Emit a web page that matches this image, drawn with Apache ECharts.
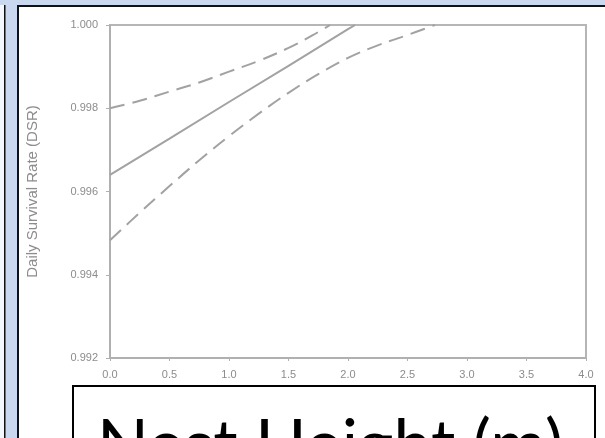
<!DOCTYPE html>
<html>
<head>
<meta charset="utf-8">
<script src="https://cdn.jsdelivr.net/npm/echarts@6/dist/echarts.min.js"></script>
<style>
  html, body { margin: 0; padding: 0; }
  #chart { width: 605px; height: 438px; }
</style>
</head>
<body>
<div id="chart"></div>
<script>
// Nest height (m) against daily survival rate, with 95% confidence bounds
const heightEstimate = [0, 0.5, 1.0, 1.5, 2.0, 2.06];
const dsrEstimate    = [0.99640, 0.99727, 0.99815, 0.99902, 0.99990, 1.000];

const heightUpper = [0, 0.25, 0.5, 0.75, 1.0, 1.25, 1.5, 1.7, 1.85];
const dsrUpper    = [0.99800, 0.99818, 0.99840, 0.99862, 0.99888, 0.99914, 0.99945, 0.99975, 1.000];

const heightLower = [0, 0.25, 0.5, 0.75, 1.0, 1.25, 1.5, 1.75, 2.0, 2.25, 2.5, 2.73];
const dsrLower    = [0.99483, 0.99549, 0.99613, 0.99675, 0.99733, 0.99787, 0.99837, 0.99882, 0.99921, 0.99951, 0.99976, 1.000];

const xTicks = { min: 0, max: 4, step: 0.5 };
const yTicks = { min: 0.992, max: 1.000, step: 0.002 };

const yTitle = 'Daily Survival Rate (DSR)';
const xTitle = 'Nest Height (m)';

function pairs(xs, ys) { return xs.map((x, i) => [x, ys[i]]); }

const lineGrey = '#a2a2a2';
const textGrey = '#8c8c8c';

// fit the large caption to its box width
const meas = document.createElement('canvas').getContext('2d');
meas.font = '100px Lato';
const titleSize = Math.round(100 * 466 / meas.measureText(xTitle).width);

const chart = echarts.init(document.getElementById('chart'), null, { renderer: 'canvas' });

chart.setOption({
  animation: false,
  backgroundColor: '#c9d7ef',
  graphic: [
    { type: 'rect', z: -10, shape: { x: 0, y: 5, width: 4, height: 440 }, style: { fill: '#f4f7fc' } },
    { type: 'rect', z: -10, shape: { x: 4, y: 5, width: 1.5, height: 440 }, style: { fill: '#111' } },
    { type: 'rect', z: -10, shape: { x: 17, y: 5, width: 600, height: 2 }, style: { fill: '#111' } },
    { type: 'rect', z: -10, shape: { x: 17, y: 5, width: 2, height: 440 }, style: { fill: '#111' } },
    { type: 'rect', z: -10, shape: { x: 19, y: 7, width: 600, height: 440 }, style: { fill: '#ffffff' } },
    { type: 'rect', z: 100, shape: { x: 73, y: 386, width: 522, height: 70 },
      style: { fill: '#ffffff', stroke: '#000000', lineWidth: 2 } },
    { type: 'text', z: 101, x: 97, y: 431 - titleSize * 0.28,
      style: { text: xTitle, font: titleSize + 'px Lato', fill: '#000000', verticalAlign: 'top' } }
  ],
  grid: {
    left: 110, right: 19, top: 25, bottom: 80,
    show: true, borderColor: '#b6b6b6', borderWidth: 2, backgroundColor: 'transparent'
  },
  xAxis: {
    type: 'value', min: xTicks.min, max: xTicks.max, interval: xTicks.step,
    axisLine: { show: true, lineStyle: { color: '#b0b0b0', width: 2 } },
    axisTick: { show: true, length: 3, lineStyle: { color: '#b0b0b0' } },
    splitLine: { show: false },
    axisLabel: { color: textGrey, fontSize: 11, fontFamily: 'Liberation Sans', margin: 11,
      formatter: v => v.toFixed(1) }
  },
  yAxis: {
    type: 'value', min: yTicks.min, max: yTicks.max, interval: yTicks.step,
    name: yTitle, nameLocation: 'middle', nameGap: 70, nameRotate: 90,
    nameTextStyle: { color: textGrey, fontSize: 15, fontFamily: 'Liberation Sans' },
    axisLine: { show: true, lineStyle: { color: '#b0b0b0', width: 2 } },
    axisTick: { show: true, length: 4, lineStyle: { color: '#b0b0b0' } },
    splitLine: { show: false },
    axisLabel: { color: textGrey, fontSize: 11, fontFamily: 'Liberation Sans', margin: 12,
      formatter: v => v.toFixed(3) }
  },
  series: [
    { type: 'line', data: pairs(heightEstimate, dsrEstimate), symbol: 'none', smooth: false,
      lineStyle: { color: lineGrey, width: 2 } },
    { type: 'line', data: pairs(heightUpper, dsrUpper), symbol: 'none', smooth: 0.4,
      lineStyle: { color: lineGrey, width: 2, type: [15, 8] } },
    { type: 'line', data: pairs(heightLower, dsrLower), symbol: 'none', smooth: 0.4,
      lineStyle: { color: lineGrey, width: 2, type: [15, 8] } }
  ]
});
</script>
</body>
</html>
